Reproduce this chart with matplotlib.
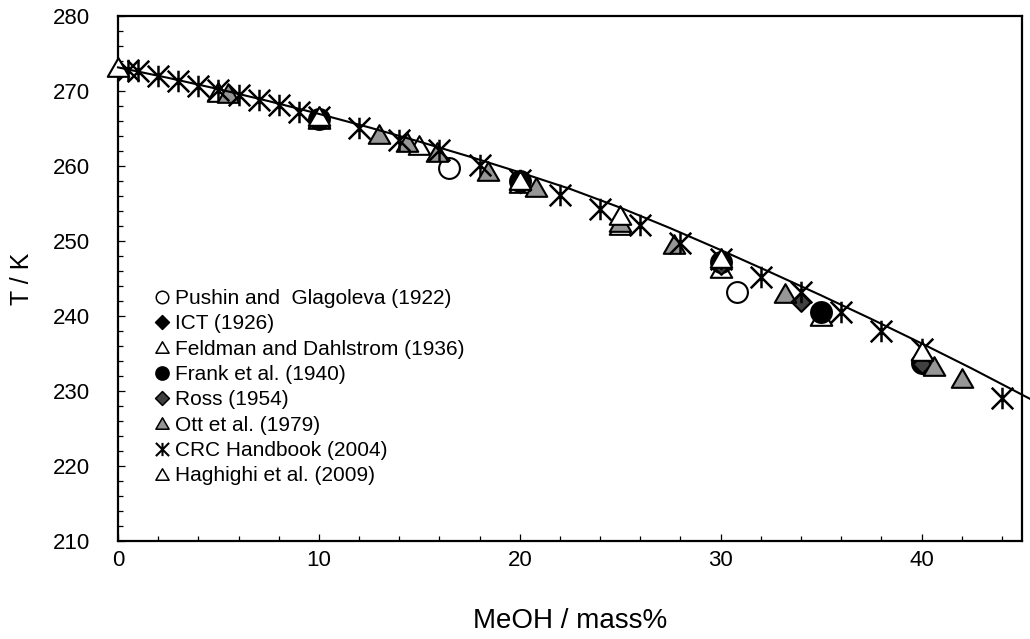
import matplotlib
matplotlib.use("Agg")
import matplotlib.pyplot as plt
from matplotlib.path import Path
from matplotlib.lines import Line2D
from matplotlib.ticker import MultipleLocator

plt.rcParams['font.family'] = ['Liberation Sans', 'DejaVu Sans']

# ---------------- data ----------------
pushin_x = [16.5, 30.8]
pushin_T = [259.7, 243.2]

ict_x = [10.0, 20.0, 30.0]
ict_T = [266.4, 257.8, 246.9]

feldman_x = [5.0, 10.0, 15.0, 20.0, 25.0, 30.0, 35.0]
feldman_T = [269.9, 266.3, 262.8, 257.8, 252.1, 246.4, 240.0]

frank_x = [10.0, 20.0, 30.0, 35.0, 40.0]
frank_T = [266.3, 258.0, 247.2, 240.5, 233.8]

ross_x = [30.0, 34.0, 40.0]
ross_T = [246.8, 241.9, 233.6]

ott_x = [5.5, 13.0, 14.4, 15.9, 18.4, 20.8, 25.0, 27.7, 33.2, 40.6, 42.0]
ott_T = [269.7, 264.3, 263.2, 261.9, 259.4, 257.2, 252.6, 249.6, 243.1, 233.3, 231.8]

crc_x = [0.5, 1, 2, 3, 4, 5, 6, 7, 8, 9, 10, 12, 14, 16, 18, 20, 22, 24, 26, 28,
         30, 32, 34, 36, 38, 40, 44]
crc_T = [272.85, 272.6, 271.95, 271.3, 270.7, 270.1, 269.45, 268.8, 268.1, 267.25, 266.5,
         265.1, 263.5, 262.1, 260.1, 258.1, 256.2, 254.3, 252.1, 249.8,
         247.6, 245.2, 243.2, 240.5, 238.0, 235.6, 229.1]

hag_x = [0.0, 10.0, 20.0, 25.0, 30.0, 40.0]
hag_T = [273.15, 266.6, 258.2, 253.5, 247.8, 235.3]

fit_x = [0, 2.5, 5, 7.5, 10, 12.5, 15, 17.5, 20, 22.5, 25, 27.5, 30, 32.5, 35,
         37.5, 40, 42.5, 45.4]
fit_T = [273.15, 271.75, 270.25, 268.65, 266.95, 265.15, 263.25, 261.25, 259.15,
         256.95, 254.45, 251.7, 248.8, 245.8, 242.75, 239.6, 236.35, 233.0, 228.95]

labels = ["Pushin and  Glagoleva (1922)", "ICT (1926)", "Feldman and Dahlstrom (1936)",
          "Frank et al. (1940)", "Ross (1954)", "Ott et al. (1979)",
          "CRC Handbook (2004)", "Haghighi et al. (2009)"]

# ---------------- marker shapes ----------------
TRI = Path([(-1, -0.866), (1, -0.866), (0, 0.866), (-1, -0.866)],
           [Path.MOVETO, Path.LINETO, Path.LINETO, Path.CLOSEPOLY])
DIA = Path([(0, 1), (1, 0), (0, -1), (-1, 0), (0, 1)],
           [Path.MOVETO, Path.LINETO, Path.LINETO, Path.LINETO, Path.CLOSEPOLY])
AST = Path([(0, -1), (0, 1), (-1, -1), (1, 1), (-1, 1), (1, -1)],
           [Path.MOVETO, Path.LINETO, Path.MOVETO, Path.LINETO, Path.MOVETO, Path.LINETO])

GRAY = '#969696'
DARK = '#404040'

styles = [
    dict(marker='o', mfc='white', ms=15, lms=9),
    dict(marker=DIA, mfc='black', ms=14, lms=10),
    dict(marker=TRI, mfc='white', ms=15.5, lms=9.5),
    dict(marker='o', mfc='black', ms=15, lms=9.5),
    dict(marker=DIA, mfc=DARK, ms=13.5, lms=10),
    dict(marker=TRI, mfc=GRAY, ms=15.5, lms=9.5),
    dict(marker=AST, mfc='none', ms=15.5, lms=9.5),
    dict(marker=TRI, mfc='white', ms=15.5, lms=9.5),
]
series = [(pushin_x, pushin_T), (ict_x, ict_T), (feldman_x, feldman_T),
          (frank_x, frank_T), (ross_x, ross_T), (ott_x, ott_T),
          (crc_x, crc_T), (hag_x, hag_T)]

fig = plt.figure(figsize=(10.3, 6.39), dpi=100)
ax = fig.add_axes([118 / 1030, 1 - 541 / 639, 904 / 1030, 525 / 639])

handles = []
for i, ((xs, ts), st) in enumerate(zip(series, styles)):
    mew = 1.8 if st['marker'] is AST else 1.5
    ax.plot(xs, ts, linestyle='none', marker=st['marker'], markersize=st['ms'],
            markerfacecolor=st['mfc'], markeredgecolor='black', markeredgewidth=mew,
            clip_on=False, zorder=3 + i)
    handles.append(Line2D([], [], linestyle='none', marker=st['marker'],
                          markersize=st['lms'], markerfacecolor=st['mfc'],
                          markeredgecolor='black',
                          markeredgewidth=1.5 if st['marker'] is AST else 1.1))

ax.plot(fit_x, fit_T, color='black', linewidth=1.5, clip_on=False, zorder=20)

ax.set_xlim(0, 45)
ax.set_ylim(210, 280)
ax.xaxis.set_major_locator(MultipleLocator(10))
ax.xaxis.set_minor_locator(MultipleLocator(2))
ax.yaxis.set_major_locator(MultipleLocator(10))
ax.yaxis.set_minor_locator(MultipleLocator(2))
ax.tick_params(which='both', direction='in', width=0.9, labelsize=16)
ax.tick_params(which='major', length=5)
ax.tick_params(which='minor', length=3.5)
ax.tick_params(axis='y', which='major', pad=20)
ax.tick_params(axis='x', which='major', pad=6.5)
for sp in ax.spines.values():
    sp.set_linewidth(1.6)

ax.set_xlabel("MeOH / mass%", fontsize=20, va='center')
ax.xaxis.set_label_coords(0.5, (541 - 621) / 525)
ax.set_ylabel("T / K", fontsize=18, va='center', ha='center')
ax.yaxis.set_label_coords((22 - 118) / 904, 0.5)

leg = ax.legend(handles, labels, loc='upper left',
                bbox_to_anchor=((154.7 - 118) / 904, (541 - 289) / 525),
                frameon=False, fontsize=15, borderpad=0, borderaxespad=0,
                handlelength=0.7, handletextpad=0.27, labelspacing=0.305)
leg.set_zorder(30)

fig.savefig("out.png", dpi=100)
